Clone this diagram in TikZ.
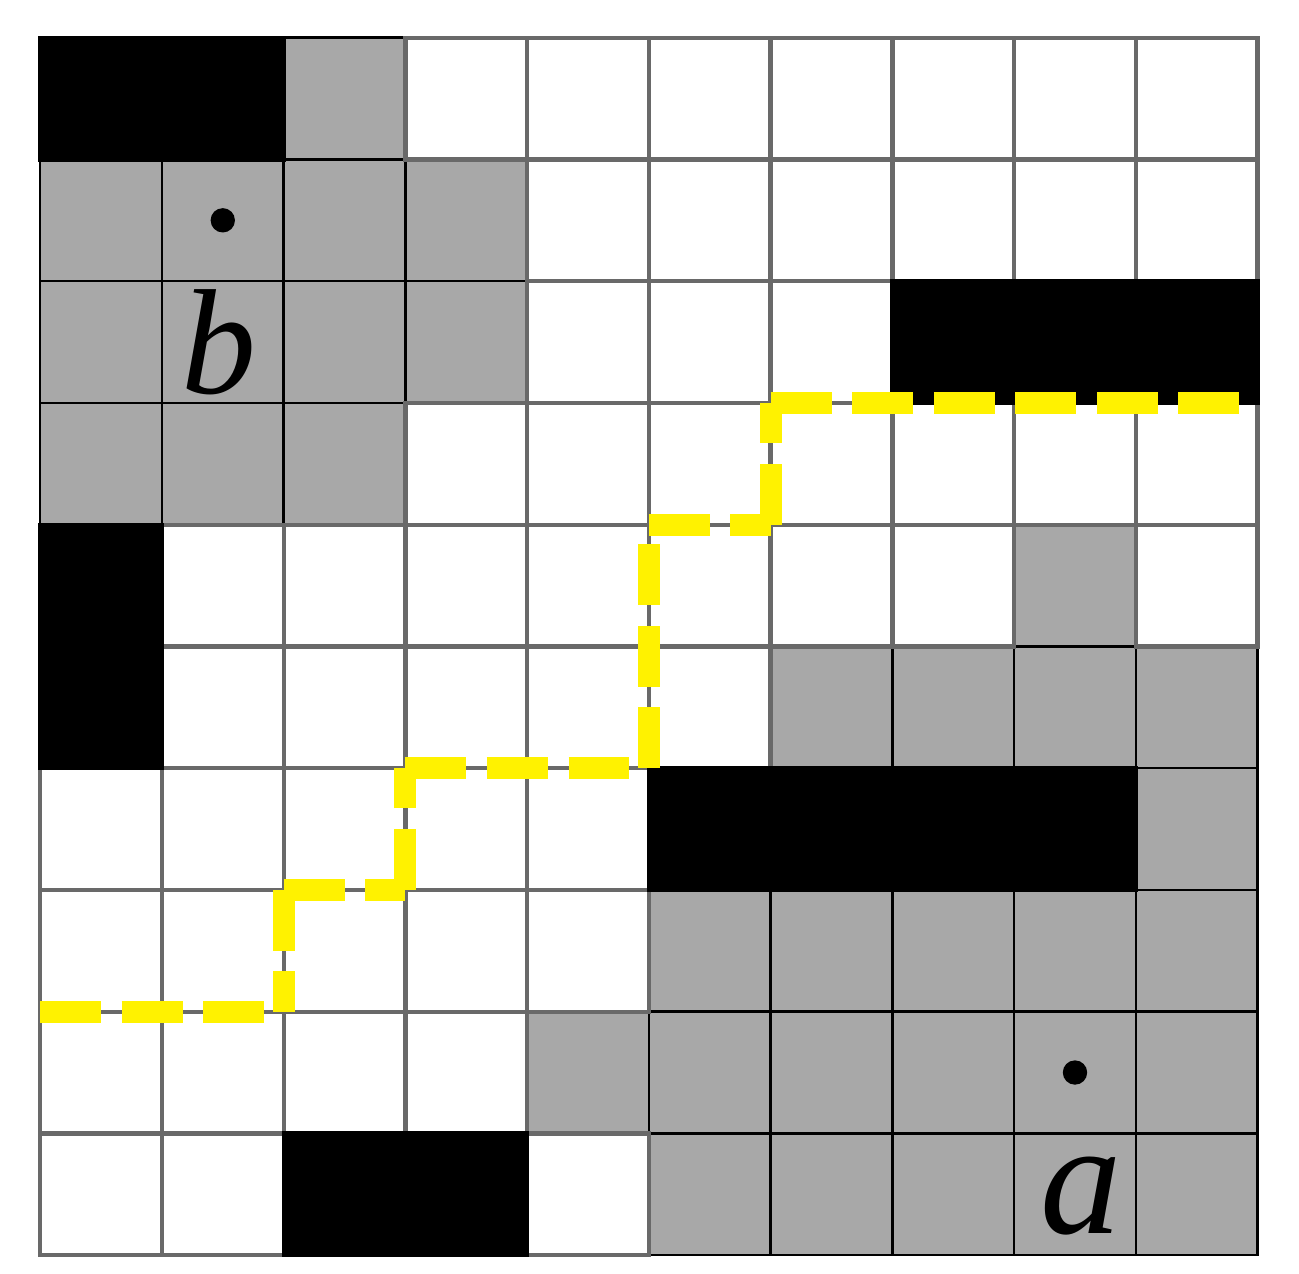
\documentclass[tikz,border=0pt]{standalone}
\usepackage{xcolor}
\usepackage{fontspec}
\setmainfont{Liberation Serif}
\usepackage{tikz}
\usetikzlibrary{positioning,calc}
\definecolor{cellgray}{RGB}{168,168,168}
\definecolor{linegray}{RGB}{105,105,105}

\begin{document}
\begin{tikzpicture}[
        graycell/.style={fill=cellgray, draw=black, line width=0.6pt},
        whitecell/.style={draw=linegray, line width=1pt},
        blackcell/.style={fill=black, draw=black, line width=1pt},
        route/.style={draw=yellow, line width=5.1pt,
                      dash pattern=on 0.5cm off 0.17cm},
        dot/.style={circle, fill=black, inner sep=0pt, minimum size=0.2cm},
        lbl/.style={anchor=base, inner sep=0pt}
    ]

    %% ── page frame ──────────────────────────────────────────────────────────
    \fill[white] (-0.33,-0.15) rectangle (10.34,10.31);
    \useasboundingbox (-0.33,-0.15) rectangle (10.34,10.31);

    %% ── grey cells (row / columns, row 0 at the top) ───────────────────────
    \foreach \r/\cols in {0/{2}, 1/{0,1,2,3}, 2/{0,1,2,3}, 3/{0,1,2},
                          4/{8}, 5/{6,7,8,9}, 6/{9}, 7/{5,6,7,8,9},
                          8/{4,5,6,7,8,9}, 9/{5,6,7,8,9}}
        \foreach \c in \cols
            \draw[graycell] (\c,9-\r) rectangle ++(1,1);

    %% ── free cells ─────────────────────────────────────────────────────────
    \foreach \r/\cols in {0/{3,4,5,6,7,8,9}, 1/{4,5,6,7,8,9}, 2/{4,5,6},
                          3/{3,4,5,6,7,8,9}, 4/{1,2,3,4,5,6,7,9},
                          5/{1,2,3,4,5}, 6/{0,1,2,3,4}, 7/{0,1,2,3,4},
                          8/{0,1,2,3}, 9/{0,1,4}}
        \foreach \c in \cols
            \draw[whitecell] (\c,9-\r) rectangle ++(1,1);

    %% ── obstacles ──────────────────────────────────────────────────────────
    \draw[blackcell] (0,9) rectangle (2,10);
    \draw[blackcell] (7,7) rectangle (10,8);
    \draw[blackcell] (0,4) rectangle (1,6);
    \draw[blackcell] (5,3) rectangle (9,4);
    \draw[blackcell] (2,0) rectangle (4,1);

    %% ── points and labels ──────────────────────────────────────────────────
    \node[dot] (ptb) at (1.5,8.5) {};
    \node[dot] (pta) at (8.5,1.5) {};
    \node[lbl, font=\fontsize{35}{35}\selectfont\itshape] (lblb) at (1.47,7.08) {b};
    \node[lbl, font=\fontsize{38}{38}\selectfont\itshape] (lbla) at (8.55,0.18) {a};

    %% ── dashed boundary ────────────────────────────────────────────────────
    \coordinate (y0) at (0,2);
    \coordinate (y1) at (2,2);
    \coordinate (y2) at (2,3);
    \coordinate (y3) at (3,3);
    \coordinate (y4) at (3,4);
    \coordinate (y5) at (5,4);
    \coordinate (y6) at (5,6);
    \coordinate (y7) at (6,6);
    \coordinate (y8) at (6,7);
    \coordinate (y9) at (10,7);

    \draw[route] (y0) -- (y1);
    \draw[route] (y2) -- (y1);
    \draw[route] (y2) -- (y3);
    \draw[route] (y3) -- (y4);
    \draw[route] (y4) -- (y5);
    \draw[route] (y5) -- (y6);
    \draw[route] (y6) -- (y7);
    \draw[route] (y7) -- (y8);
    \draw[route] (y8) -- (y9);

\end{tikzpicture}
\end{document}
